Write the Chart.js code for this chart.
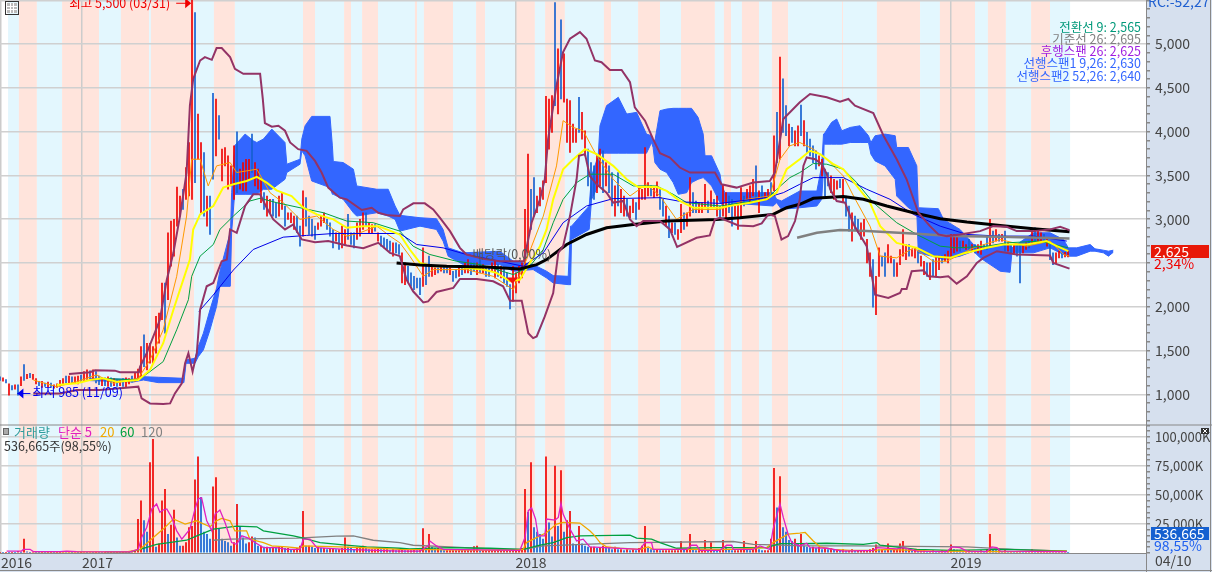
<!DOCTYPE html>
<html>
<head>
<meta charset="utf-8">
<style>
  html, body { margin: 0; padding: 0; background: #fff; overflow: hidden; }
  canvas { display: block; }
</style>
<script src="https://cdn.jsdelivr.net/npm/chart.js@4"></script>
</head>
<body>
<canvas id="stockChart" width="1212" height="572"></canvas>
<script>
// bar number = one step of the time axis
const candleHigh = [
  1200,1190,1170,1120,1100,1110,1110,1200,1340,1230, 1240,1230,1180,1150,1150,1130,1140,1130,1110,1120,
  1160,1180,1210,1210,1200,1200,1210,1220,1260,1280, 1270,1280,1260,1210,1190,1190,1200,1190,1180,1170,
  1160,1180,1190,1180,1210,1240,1290,1546,1680,1584, 1584,1546,1890,1928,2272,2272,2845,2979,2998,3368,
  3265,3342,3590,3876,5500,5359,4201,3876,3762,3265, 3265,4438,4373,4182,3800,3819,3724,3609,3838,3999,
  3571,3647,3685,3685,3972,3647,3571,3456,3303,3265, 3227,3227,3189,3265,3303,3151,3074,3074,3036,3036,
  2921,3323,3246,3036,2998,2921,2960,3036,3074,2998, 2960,2883,2845,2845,2921,2883,3055,2845,2845,2960,
  2998,3074,3074,2960,2940,2940,2845,2807,2788,2769, 2750,2730,2730,2711,2616,2501,2463,2387,2348,2329,
  2329,2673,2463,2578,2463,2444,2444,2463,2463,2463, 2444,2406,2425,2444,2444,2501,2539,2501,2501,2501,
  2539,2482,2463,2463,2501,2520,2482,2463,2425,2387, 2253,2463,2387,2463,2501,3112,3743,3342,3475,3265,
  3361,3437,4404,4373,4411,5473,4946,5278,4889,4373, 4354,4087,4029,4392,4220,4010,3800,3647,3609,3724,
  3800,3781,3647,3609,3533,3380,3533,3342,3265,3227, 3151,3227,3189,3361,3342,3819,3418,3380,3361,3426,
  3342,3227,3151,3036,2960,2960,2883,3170,3074,3074, 3475,3303,3208,3189,3189,3399,3208,3323,3227,3265,
  3151,3399,3303,3265,3227,3151,3189,3361,3265,3342, 3380,3456,3609,3323,3380,3303,3342,3418,3953,4220,
  4850,4602,4297,4087,4048,4010,4067,4304,4125,3991, 3915,3838,3781,3724,3685,3571,3533,3494,3456,3437,
  3456,3456,3265,3151,3074,3036,2998,2960,2998,2769, 2616,2539,2348,2673,2578,2616,2711,2578,2539,2501,
  2654,2883,2711,2711,2654,2673,2635,2578,2520,2501, 2501,2539,2578,2578,2578,2597,2635,2826,2826,2807,
  2750,2750,2711,2769,2711,2711,2711,2750,2711,2807, 2998,2864,2883,2826,2826,2864,2730,2711,2711,2700,
  2711,2711,2730,2750,2864,2902,2883,2845,2826,2788, 2711,2616,2616,2635,2616,2623,2635
];
const candleLow = [
  1160,1150,1130,990,1050,1060,990,1100,1160,1180, 1190,1170,1120,1100,1080,1090,1080,1080,1070,1080,
  1090,1110,1130,1120,1130,1130,1120,1140,1150,1170, 1170,1180,1130,1110,1100,1100,1090,1090,1100,1090,
  1100,1090,1080,1120,1140,1150,1160,1200,1317,1279, 1355,1355,1470,1584,1852,1699,2081,2463,2578,2921,
  3036,3112,3227,3265,3227,3418,3685,3074,3036,2921, 2826,3456,3724,3915,3437,3609,3342,3380,3227,3303,
  3342,3323,3323,3456,3533,3380,3342,3189,3112,3036, 3074,3036,3017,3036,3112,2921,2998,2960,2883,2845,
  2692,2807,2921,2826,2807,2769,2883,2921,2960,2883, 2807,2673,2750,2654,2673,2711,2769,2711,2673,2769,
  2807,2883,2921,2845,2845,2864,2750,2692,2673,2654, 2635,2578,2616,2597,2272,2253,2272,2234,2196,2215,
  2138,2234,2253,2348,2348,2368,2387,2406,2387,2387, 2368,2291,2329,2348,2368,2387,2387,2368,2406,2368,
  2387,2387,2348,2348,2406,2329,2348,2329,2272,2234, 1975,2062,2157,2272,2329,2463,2616,2883,3036,3074,
  3151,3227,3418,3800,3991,4297,4201,4373,4335,3876, 3762,3876,3876,3991,3915,3724,3380,3227,3227,3303,
  3380,3303,3380,3303,3151,3036,3151,3074,3036,3036, 3017,3074,2998,3112,3227,3227,3265,3265,3246,3265,
  3112,3036,2921,2788,2845,2826,2769,2845,2883,2921, 3036,3074,3074,3074,3074,3131,3074,3131,3131,3036,
  2998,3036,2998,3074,2921,3036,2883,3036,3151,3227, 3189,3265,3227,3074,3227,3227,3227,3265,3323,3647,
  3685,3991,3953,3838,3876,3838,3838,3953,3838,3762, 3724,3647,3571,3609,3494,3265,3380,3303,3227,3342,
  3361,3189,3036,2864,2750,2883,2845,2769,2807,2501, 2348,1997,1909,2348,2463,2348,2501,2501,2348,2348,
  2482,2578,2539,2578,2578,2559,2501,2463,2368,2348, 2310,2348,2348,2425,2501,2520,2501,2578,2616,2635,
  2635,2673,2654,2654,2635,2616,2616,2597,2654,2654, 2692,2730,2750,2750,2750,2635,2635,2616,2597,2578,
  2272,2616,2654,2673,2730,2750,2730,2750,2750,2692, 2539,2482,2501,2559,2559,2570,2570
];
const candleUp = [
  0,1,0,1,0,1,0,1,0,1, 0,1,1,0,1,0,1,0,1,1, 1,1,0,1,0,1,1,0,1,1, 0,1,0,0,1,0,1,0,1,0,
  1,0,1,1,0,1,1,1,0,1, 1,1,1,1,1,0,1,1,1,1, 1,0,1,1,1,0,1,1,0,1, 0,0,1,0,1,1,1,1,1,0,
  1,1,1,1,0,1,1,1,0,1, 1,0,0,1,1,0,1,1,1,0, 0,1,0,0,0,0,1,1,1,0, 0,0,1,0,1,1,0,0,0,1,
  1,1,0,1,1,0,1,0,0,0, 0,1,0,0,1,1,0,0,0,0, 0,1,0,0,1,1,0,1,0,0, 1,0,0,1,0,1,1,0,0,1,
  0,1,0,0,1,1,0,1,0,0, 0,1,1,1,1,1,1,0,0,1, 1,1,1,1,1,0,1,0,1,1, 1,1,1,0,1,1,0,0,0,1,
  1,0,1,0,0,1,0,1,1,0, 1,1,0,1,1,1,1,0,1,1, 0,0,1,0,1,0,1,1,0,1, 1,0,0,1,1,1,0,1,0,1,
  0,1,1,0,0,1,1,1,0,1, 1,1,0,1,0,1,1,0,1,0, 1,0,0,1,0,1,1,0,1,0, 0,0,0,1,1,0,0,1,1,1,
  0,1,0,0,1,0,0,1,1,1, 1,0,1,1,0,0,1,1,0,1, 1,1,1,0,1,1,0,1,1,0, 1,0,1,1,0,1,1,1,1,1,
  0,1,1,0,1,0,1,1,0,0, 1,0,1,0,1,0,1,0,1,0, 0,1,1,0,1,0,1,1,0,1, 0,0,1,1,0,1,1
];
// volume in thousands of K shares
const volume = [
  .5,.4,.5,.4,.6,.5,1.5,.6,12,1, .6,.8,.5,.4,.5,.4,.4,.5,.4,.5, .6,1,.8,1,.6,.8,.5,.6,.8,.6, .7,.5,.6,.5,.4,.5,.4,.5,.4,.5,
  .4,.5,.4,.8,1.5,2,29,45,28,18, 78,98,5,8,45,55,16,24,37,13, 6,6,9,22,23,63,83,48,18,16, 12,57,65,21,12,10,9,6,9,42,
  23,13,8,9,14,13,6,6,5,5, 4,5,4,5,5,4,4,3,3,4, 6,36,6,6,5,4,5,4,4,3, 4,4,3,3,4,13,5,4,3,5,
  5,6,4,3,3,3,4,3,3,3, 2,3,2,2,3,2,2,2,3,2, 3,21,3,16,5,4,4,3,2,2, 2,2,2,2,2,2,2,2,5.5,6,
  2,2,2,2,2,2,2,2,2,2, 3,3,3,3,4,55,35,78,22,18, 16,12,83,26,14,75,23,71,18,28, 36,8,7,23,8,6,5,5,5,4,
  4,6,5,4,3,5,3,3,2,3, 2,3,2,4,6,23,4,3,2,3, 2,2,2,2,2,2,2,10,3,3, 16,3,2,2,3,11,3,9,3,2,
  2,11,5,3,2,2,2,3,10,3, 2,3,10,3,2,2,2,12,73,39, 66,22,18,11,10,12,8,16,6,5, 4,5,4,5,3,4,3,4,3,3,
  2,3,2,2,3,2,2,2,2,2, 3,4,7,3,3,2,8,3,3,3, 8,10,3,3,2,3,2,2,2,1.5, 1.5,2,1.5,1.5,2,1.5,1.5,7,3,2.5,
  2,1.5,1.5,2,1.5,1.5,1.5,2,1.5,3, 16,3,2,2,1.5,2,1.5,1.5,1,1, 1.5,1,1,1,3,1,1,1,1,1, 1,1,1,1,1,1,.5
];

const bbUpperX = [23,30,31.7,38.3,40,46.3,46.7,48.9,53.3,55.6,57.8,60,62.2,63.3,64.4,66.7,68.3,70.6,72.2,73.9,76.7,78.3,81.1,86.7,87.6,88.3,90.6,92.8,95,96.7,99.4,102.2,105,107.2,109.4,113.3,115.6,120.6,123.9,126.1,129.4,133.3,134.4,137.8,141.6,144.4,146.6,150,153.3,155.5,161.1,166.6,174.6,177.2,180,181.6,182.7,185.5,187.7,190,193.3,195.5,198.3,200.5,203.3,207.2,210,211.6,215,217.7,220,223.3,226.6,230,238.3,240.5,245.5,251.1,256.6,258.3,261.1,266.6,270,275.6,280,282.8,285,291.1,294.5,298.9,302.2,306.1,310,312.8,315.6,320,326.7,331.1,335.6,338.9,344.5,350,353.4,356.5];
const bbUpper = [1233,1252,1275,1271,1252,1252,1317,1470,1852,2310,2616,3036,3533,4297,4602,4812,4851,4820,4954,4954,4851,4717,4660,4660,4373,4098,4056,4067,4010,3876,3800,3781,3666,3533,3361,3246,3227,3105,3131,3074,3044,3036,3112,3181,3181,3112,3017,2864,2673,2597,2547,2520,2520,2960,3227,3456,3915,4526,4908,5061,5137,5061,4812,4793,4705,4705,4564,4277,4125,3915,3754,3705,3590,3533,3533,3399,3361,3418,3437,3533,4144,4335,4430,4392,4343,4373,4297,4213,3953,3685,3456,3074,2921,2826,2807,2826,2864,2921,2914,2864,2864,2883,2914,2876];
const bbLowerX = [11.1,20,25.6,33.3,40,46.1,47.2,50,54.4,56.7,58.3,60.6,61.7,62.8,64.2,65.6,66.7,68.9,71.1,73.9,75.6,76.7,78.9,81.7,84.4,86.7,88.9,91.1,95,97.8,98.9,100.6,105,109.4,115.6,121.1,126.1,130,133.3,135.5,137.7,141.1,142.7,145.5,151.1,153.3,158.9,164.4,167.7,170,173.9,176.1,177.7,178.9,181.6,184.4,186.1,187.7,190,192.2,193,195,196.6,198.9,202.2,204.4,207.7,210,212.2,214.4,220,223.3,225.7,232.2,236.6,238.3,240,246.1,251.1,253.9,256.1,258.3,260.5,262.7,265,266.6,267.8,268.9,271.7,273.9,275.6,276.7,278.9,281.7,284.5,288.9,291.7,296.1,300,300.6,302.2,303.9,307.8,309.5,313.4,316.1,318.9,322.3,325.6,327.8,332.3,338.9,350,351.1,356.5];
const bbLower = [1011,1011,1050,1050,1069,1088,954,897,889,897,1011,1126,1355,1470,1260,1470,1966,2234,2272,2520,2539,2883,2845,3151,3284,3284,3131,2998,2883,2940,2864,2769,2738,2750,2700,2669,2730,2616,2578,2310,2177,2050,2062,2169,2215,2318,2318,2291,2234,2070,2070,1699,1642,1661,1890,2157,2616,2692,3036,3456,3724,3743,3494,3399,3303,3189,3208,2998,2921,2979,2979,2883,2685,2788,2815,2998,3017,2929,2921,2952,3055,3036,2769,2807,2979,3227,3609,3705,3685,3628,3514,3342,3208,3189,2941,2692,2138,2100,2157,2203,2203,2406,2417,2348,2337,2348,2264,2348,2501,2558,2635,2597,2585,2501,2436];

const ma5X = [11.1,18.9,25.6,32.2,37.8,46.1,50,54.4,58.9,62.2,63.9,66.7,69.4,72.2,76.7,78.9,85.6,90,94.4,100,105.6,111.1,115.6,120,125.6,130,133.3,136.6,141.1,144.4,155.5,164.4,171.1,175.5,181.1,185.5,187.7,191.1,194.4,198.9,204.4,210,215.5,220,225.5,231.1,240,248.9,256.6,260,263.3,266.6,271.1,275.6,281.1,284.5,290,293.4,298.9,304.5,311.1,315.6,324.5,333.4,342.2,350,354.5,356.5];
const ma5 = [1164,1088,1145,1222,1126,1183,1393,1737,2348,3036,3685,3685,3380,3609,3647,3533,3571,3303,3189,2998,3036,2883,2807,2845,2921,2807,2730,2578,2348,2425,2425,2348,2196,2539,3036,3609,4125,4048,4010,3724,3456,3265,3399,3265,2998,3112,3112,3227,3265,3685,3838,3876,3800,3685,3494,3265,2921,2578,2559,2673,2520,2520,2673,2769,2692,2750,2597,2578];
const ma20X = [18.9,25.6,30,34.4,38.9,46.1,50,54.4,57.8,61.1,63.3,64.4,66.7,71.1,74.4,77.8,82.2,85.6,88.9,92.2,97.2,101.1,105.6,111.1,115.6,121.1,126.1,133.3,136.6,140,144.4,151.1,155.5,161.1,165.5,170,173.3,176.6,180,182.2,184.4,187.7,191.1,195,198.9,204.4,208.9,212.7,218.9,222.2,226.6,231.1,240,244.4,250,255.5,258.9,262.2,266.6,270,273.4,277.8,281.1,285.6,290,293.4,298.9,305.6,311.1,316.7,321.1,328.9,334.5,342.2,348.9,352.3,356.1];
const ma20 = [1107,1126,1164,1183,1145,1164,1279,1584,1966,2310,2539,2883,3055,3151,3361,3399,3437,3483,3418,3330,3265,3131,3055,2998,2902,2921,2921,2826,2654,2501,2463,2463,2444,2425,2387,2291,2310,2501,2692,2883,3227,3571,3685,3800,3743,3609,3456,3368,3368,3323,3208,3131,3131,3158,3189,3227,3303,3571,3685,3781,3743,3628,3571,3380,3189,2921,2730,2673,2578,2559,2608,2673,2711,2711,2750,2692,2635];
const ma60X = [33.3,46.1,50,54.4,58.9,62.8,63.9,66.7,71.1,73.3,77.8,83.3,86.7,92.2,100,107.8,115.6,124.4,133.3,137.7,143.3,152.2,160,171.1,176.6,181.1,184.4,187.7,192.2,196.6,204.4,211.1,218.9,224.4,228.9,240,255.5,258.9,263.3,266.6,271.1,275.6,281.1,285.6,291.1,298.9,305.6,313.4,318.9,328.9,335.6,346.7,356.1];
const ma60 = [1183,1164,1260,1374,1737,2081,2348,2578,2711,2883,3036,3208,3239,3189,3131,3074,2979,2960,2864,2692,2597,2520,2482,2368,2463,2654,2960,3227,3418,3514,3514,3380,3380,3284,3189,3151,3227,3342,3475,3533,3636,3628,3571,3418,3189,2960,2826,2692,2673,2692,2730,2750,2673];
const ma120X = [66.3,71.1,77.8,84.4,94.4,102.2,111.1,133.3,138.9,147.7,155.5,166.6,174.4,181.1,187.7,195.5,204.4,220,227.7,240,255.5,261.1,266.6,271.1,281.1,288.9,296.7,304.5,313.4,322.3,333.4,344.5,355.6];
const ma120 = [1947,2135,2420,2654,2795,2815,2837,2837,2711,2673,2597,2520,2463,2616,2960,3151,3235,3246,3197,3181,3246,3303,3399,3475,3475,3342,3227,3055,2921,2826,2807,2807,2750];
const ma240X = [132.2,140,148.9,162.2,173.3,178.9,182.2,188.9,195.5,202.2,211.1,222.2,238.9,246.6,257.7,262.2,266.6,271.1,281.1,287.8,295.6,304.5,313.4,322.3,333.4,344.5,356.5];
const ma240 = [2501,2478,2463,2455,2432,2482,2539,2711,2826,2902,2940,2979,2998,3017,3055,3131,3170,3239,3258,3227,3151,3074,3005,2967,2929,2891,2856];
const ma480X = [265.7,272.3,280,288.9,305.6,316.7,333.4,356.5];
const ma480 = [2788,2845,2876,2864,2833,2807,2799,2780];

const cloudX = [30,44.4,47.8,52.8,61.3,62,65,66.1,67.8,70,72.2,73.3,76.7,76.9,77.2,78.2,81.7,84.4,85.6,87.8,90.6,95,95.6,100,100.6,101.7,103.9,110,110.8,111.1,114.4,117.8,118.9,125.6,129.4,131.7,133.3,140,145.5,147.7,149.4,154.4,166.6,171.1,177.7,182.2,184.4,189.4,190.2,190.5,196.4,197.2,199.4,200,202.2,206.1,208.9,212.2,215.5,217.2,217.7,218.3,220,222.2,224.4,226.1,228.9,230.5,232.7,234.4,235,237.2,240,240.5,241.6,257.7,258.9,260.5,266.6,272.3,273.9,274.5,274.7,277.2,278.9,280.6,283.4,286.7,289.5,290.3,291.7,295,298.4,298.9,302.8,305.6,306.1,312.8,314.5,320,324.5,326.7,333.4,336.7,337.3,344.5,350,354.5,356.1,358.9,363.4,365,367.8,369.5,371.1];
const cloudTop = [1183,1172,1202,1195,1183,1393,1412,1546,1699,1966,2215,2406,2845,2921,3303,3838,3972,3896,3876,3915,4029,3876,3628,3685,3915,4067,4174,4174,3838,3659,3647,3571,3380,3342,3342,3151,3044,3017,3005,2883,2673,2616,2635,2520,2482,2406,2356,2348,2921,2921,3151,3494,3724,4067,4297,4392,4201,4220,3972,3953,3896,3896,4239,4258,4266,4266,4266,4266,4163,3972,3724,3724,3514,3399,3303,3303,3227,3208,3322,3322,3609,3972,3972,4106,4144,4010,4048,4067,3953,3876,3953,3972,3953,3819,3819,3609,3131,3120,2998,2883,2711,2673,2711,2711,2673,2845,2845,2769,2673,2673,2711,2662,2646,2635,2646];
const cloudBottom = [1157,1141,1164,1134,1134,1355,1355,1431,1508,1737,2005,2234,2234,2234,2845,3284,3284,3284,3284,3342,3342,3456,3533,3628,3781,3724,3437,3361,3284,3284,3227,3074,3036,3074,3036,2998,2864,2921,2883,2750,2578,2482,2482,2406,2425,2329,2272,2253,2253,2769,2883,3227,3380,3754,3754,3754,3754,3754,3754,3876,3819,3647,3571,3533,3418,3284,3303,3418,3456,3475,3456,3380,3189,3170,3189,3151,3189,3112,3131,3151,3227,3571,3857,3857,3857,3857,3876,3876,3876,3743,3666,3609,3456,3265,3131,3074,2616,2559,2539,2578,2635,2559,2406,2394,2616,2616,2673,2597,2578,2578,2635,2635,2616,2578,2623];

const volMa5X = [2.2,7.2,7.8,10,11.1,20,22.2,25.6,43.3,46.1,47.2,48.9,50.6,52.2,53.3,54.4,55.6,57.2,58.9,60.6,63.3,65,66.1,67.2,68.9,70.6,71.7,73.3,75,77.2,78.9,80.6,82.8,85,87.8,92.2,95.6,100,101.1,103.3,105.6,115,133.3,140,142.7,143.3,145.5,147.7,173.3,175,176.1,177.2,178.5,179.4,181.6,182.2,185,186.1,187,187.7,190,192.2,194.4,196.6,213.3,215,217.2,217.7,228.9,230.5,232.2,233.3,240,242.2,243.9,244.4,251.1,253.3,256.6,257.7,260,261.1,262.7,263.9,266.6,268.9,270,275.6,281.1,291.1,292.5,298.9,301.1,305.6,315.6,317.3,320,322.3,328.9,330.6,332.3,333.4,355.6];
const volMa5 = [1.7,1.7,3.2,3.2,1.2,1.2,1.7,1.2,.9,3.2,13.3,22,38,42.3,35.1,37.1,38,30.7,19.1,11.9,20.6,38,46.7,47.6,27.8,19.1,33.6,37.1,26.4,9,7.5,14.8,12.8,9,4.6,4.6,3.2,3.2,11.9,11.9,4.6,3.2,1.7,1.7,6.1,10.4,6.1,3.2,2.3,13.3,36.5,38.9,29.3,14.8,14.8,29.3,28.4,30.7,42.9,33.6,20.6,10.4,11.9,5.2,3.2,9,9,3.2,3.2,6.7,6.7,2.3,2.3,6.7,6.7,3.2,3.2,6.1,3.2,20.6,42.3,30.7,16.2,9,6.1,8.4,4.6,4.1,1.7,2.3,4.6,3.5,4.6,1.7,1.2,5.2,4.6,1.7,1.2,5.2,4.6,1.7,1.2];
const volMa20X = [11.1,42.2,46.7,51.1,54.4,57.8,61.7,65.6,66.7,70,72.2,73.9,76.7,78.3,82.2,83.3,87.8,90.6,95.6,100,101.1,113.3,125.6,133.3,171.1,174.4,175.5,182.2,185.5,187.7,193.3,196.6,198.3,200,202.2,206.6,213.3,216.1,217.7,244.4,255.5,257.7,262.7,266.6,268.4,271.1,273.4,277.8,283.4,291.1,295.6,311.1,333.4,355.6];
const volMa20 = [1.2,.9,3.2,13.3,20.6,29.3,24.9,27.8,26.4,22.6,27.8,29.9,27.8,19.1,19.1,11.9,9,6.1,5.2,4.1,6.1,5.2,4.1,3.2,2.3,3.2,9,17.7,24.9,26.4,25.8,19.1,14.8,9,5.2,4.1,3.2,5.2,3.2,3.2,4.6,9,16.2,17.1,17.7,10.4,5.2,3.2,2.3,2.3,3.2,1.7,1.2,1.7];
const volMa60X = [35,43.3,46.7,52.2,62.2,65.6,71.1,78.9,85.6,87.8,97.8,101.1,106.7,114.4,122.2,133.3,136.6,150,163.3,174.4,180,184.4,188.9,193.3,210,212.2,217.2,220,225.5,237.7,255.5,260,266.6,275.6,287.8,292.3,293.4,305.6,316.7,335.6,355.6];
const volMa60 = [1.2,.9,3.2,7.5,11,14.8,20.6,23.2,22.6,19.1,14.8,12.8,9,7,5.2,4.1,3.5,4.6,4.1,3.2,6.7,9,13.3,14.8,15.4,12.8,11.9,9,4.1,4.6,4.6,8.1,8.1,8.4,7.5,9,6.7,3.2,2.3,3.2,1.7];
const volMa120X = [71.1,76.7,98.9,112.2,117.8,124.4,133.3,137.7,150,166.6,174.4,181.1,210,244.4,251.1,257.7,266.6,285.6,322.3,337.8,355.6];
const volMa120 = [11,11.9,12.8,14.5,14.8,11,9,6.7,5.2,3.2,3.2,6.1,9,9.9,7.5,7,6.1,6.1,5.2,3.2,1.7];

// background stripes, colour flips at each edge, first one is blue
const bandEdges = [2.7,6.3,12.3,20.7,33,40.3,49.7,50.3,64.7,71.3,78.3,101,105,114.7,117,120.7,126,138.3,139,141.3,151,158.7,161.7,172,178.3,181.7,188.3,201.3,203.7,212.7,220,227,238.3,241.3,243.7,247.3,253,257.3,262.7,280.7,281,292.3,306.7,313.3,325,329.3,335.3,343.7,350,356.7];

const yearTicks = [0.3, 27.3, 171.8, 316.8];
const yearLabels = ['2016', '2017', '2018', '2019'];
const lastDate = '04/10';
const hiddenPriceTicks = [2500, 5500];
const ichimokuLegend = [
  ['전환선 9: 2,565', '#00997a'],
  ['기준선 26: 2,695', '#808080'],
  ['후행스팬 26: 2,625', '#a020e0'],
  ['선행스팬1 9,26: 2,630', '#3366ff'],
  ['선행스팬2 52,26: 2,640', '#3366ff']
];

const FONT = "'Liberation Sans Narrow','Noto Sans CJK KR',sans-serif";
const PANEL = '#d6e0ee';
const RED = '#f00000';
const BLUE = '#1560d0';
const CLOUD = '#3366ff';

const sessions = candleHigh.map((_, i) => i);
const pairs = (xs, ys) => xs.map((x, i) => ({ x: x, y: ys[i] }));

function line(xs, ys, color, width, axis, order) {
  return {
    type: 'line', data: pairs(xs, ys), borderColor: color, borderWidth: width,
    pointRadius: 0, tension: 0, fill: false, yAxisID: axis, order: order
  };
}

function text(ctx, str, x, y, color, size, align) {
  ctx.font = (size || 13) + 'px ' + FONT;
  ctx.fillStyle = color;
  ctx.textAlign = align || 'left';
  ctx.textBaseline = 'middle';
  ctx.fillText(str, x, y);
}

const backdrop = {
  id: 'backdrop',
  beforeDraw(chart) {
    const ctx = chart.ctx, area = chart.chartArea, x = chart.scales.x;
    ctx.save();
    ctx.fillStyle = '#fff';
    ctx.fillRect(0, 0, chart.width, chart.height);
    ctx.fillStyle = PANEL;
    ctx.fillRect(area.right, 0, chart.width - area.right, chart.height);
    ctx.fillRect(0, area.bottom, chart.width, chart.height - area.bottom);
    for (let i = 0; i < bandEdges.length - 1; i++) {
      ctx.fillStyle = i % 2 ? '#ffe4dc' : '#e3f7fe';
      const a = x.getPixelForValue(bandEdges[i]), b = x.getPixelForValue(bandEdges[i + 1]);
      ctx.fillRect(a, area.top, b - a, area.bottom - area.top);
    }
    ctx.restore();
  }
};

const labels = {
  id: 'labels',
  afterDraw(chart) {
    const ctx = chart.ctx, area = chart.chartArea, x = chart.scales.x, y = chart.scales.y;
    ctx.save();

    // pane separator and frame
    ctx.strokeStyle = '#888';
    ctx.lineWidth = 1;
    ctx.beginPath();
    ctx.moveTo(0, y.bottom + 0.5); ctx.lineTo(chart.width, y.bottom + 0.5);
    ctx.moveTo(area.right + 0.5, area.bottom); ctx.lineTo(area.right + 0.5, chart.height);
    ctx.moveTo(0, chart.height - 1.5); ctx.lineTo(chart.width, chart.height - 1.5);
    ctx.moveTo(chart.width - 1.5, 0); ctx.lineTo(chart.width - 1.5, chart.height);
    ctx.stroke();

    // table icon
    ctx.strokeStyle = '#333';
    ctx.strokeRect(5.5, 1.5, 13, 13);
    ctx.fillStyle = '#bbb';
    ctx.fillRect(7, 3, 10, 10);
    ctx.strokeStyle = '#fff';
    ctx.beginPath();
    ctx.moveTo(10.5, 3); ctx.lineTo(10.5, 13);
    ctx.moveTo(13.5, 3); ctx.lineTo(13.5, 13);
    ctx.moveTo(7, 6.5); ctx.lineTo(17, 6.5);
    ctx.moveTo(7, 9.5); ctx.lineTo(17, 9.5);
    ctx.stroke();

    // high marker
    const hx = x.getPixelForValue(63.4), hy = y.getPixelForValue(5500) + 3;
    text(ctx, '최고 5,500 (03/31)', hx - 20, hy, RED, 12.5, 'right');
    ctx.strokeStyle = RED;
    ctx.fillStyle = RED;
    ctx.beginPath(); ctx.moveTo(hx - 14, hy); ctx.lineTo(hx, hy); ctx.stroke();
    ctx.beginPath(); ctx.moveTo(hx - 5, hy - 5); ctx.lineTo(hx + 1, hy); ctx.lineTo(hx - 5, hy + 5); ctx.fill();

    // low marker
    const lx = x.getPixelForValue(5.8), ly = y.getPixelForValue(1010);
    text(ctx, '최저 985 (11/09)', lx + 15, ly - 1, '#0000f0', 12.5);
    ctx.strokeStyle = '#0000f0';
    ctx.fillStyle = '#0000f0';
    ctx.beginPath(); ctx.moveTo(lx, ly); ctx.lineTo(lx + 13, ly); ctx.stroke();
    ctx.beginPath(); ctx.moveTo(lx, ly); ctx.lineTo(lx + 6, ly - 5); ctx.lineTo(lx + 6, ly + 5); ctx.fill();

    // ex-dividend marker
    const dx = x.getPixelForValue(170.8), dy = y.getPixelForValue(2300);
    ctx.fillStyle = '#f01010';
    ctx.beginPath(); ctx.moveTo(dx - 6, dy - 3); ctx.lineTo(dx + 6, dy - 3); ctx.lineTo(dx, dy + 3); ctx.fill();
    text(ctx, '배당락(0,00%)', dx - 40, dy - 26, '#555', 12.5);

    // ichimoku legend
    ichimokuLegend.forEach((row, i) => text(ctx, row[0], 1141, 27 + i * 12.2, row[1], 12.5, 'right'));

    // volume legend
    const ly2 = 432;
    ctx.fillStyle = '#aaa';
    ctx.strokeStyle = '#666';
    ctx.fillRect(3.5, ly2 - 3.5, 5, 6);
    ctx.strokeRect(3.5, ly2 - 3.5, 5, 6);
    text(ctx, '거래량', 14, ly2, '#2e9c9c', 13);
    text(ctx, '단순 5', 58, ly2, '#e020c0', 13);
    text(ctx, '20', 100, ly2, '#f0a800', 13);
    text(ctx, '60', 120, ly2, '#00a040', 13);
    text(ctx, '120', 141, ly2, '#808080', 13);
    text(ctx, '536,665주(98,55%)', 4, 446, '#333', 12.5);

    // current value tags
    ctx.fillStyle = '#e81808';
    ctx.fillRect(1151, 245, 58, 13);
    text(ctx, '2,625', 1154, 252, '#fff', 14);
    text(ctx, '2,34%', 1154, 264, RED, 14);
    ctx.fillStyle = BLUE;
    ctx.fillRect(1151, 527, 58, 13);
    text(ctx, '536,665', 1154, 534, '#fff', 14);
    text(ctx, '98,55%', 1154, 546, '#2060f0', 14);
    text(ctx, 'RC:-52,27', 1148, 2, '#2060d0', 14);
    text(ctx, lastDate, 1155, 561, '#444', 14);

    // small close icon
    ctx.fillStyle = '#333';
    ctx.fillRect(1201, 428, 8, 6);
    ctx.strokeStyle = '#fff';
    ctx.beginPath();
    ctx.moveTo(1203, 429); ctx.lineTo(1207, 433);
    ctx.moveTo(1207, 429); ctx.lineTo(1203, 433);
    ctx.stroke();
    ctx.restore();
  }
};

function fitRight(s) {
  s.width = 66;
  s.paddingTop = 0;
  s.paddingBottom = 0;
}

new Chart(document.getElementById('stockChart'), {
  type: 'line',
  data: {
    datasets: [
      // cloud
      {
        type: 'line', data: pairs(cloudX, cloudTop), borderColor: CLOUD, backgroundColor: CLOUD,
        borderWidth: 1, pointRadius: 0, tension: 0, fill: '+1', yAxisID: 'y', order: 30
      },
      {
        type: 'line', data: pairs(cloudX, cloudBottom), borderColor: CLOUD,
        borderWidth: 1, pointRadius: 0, tension: 0, fill: false, yAxisID: 'y', order: 30
      },
      // candles
      {
        type: 'bar', data: sessions.map(i => ({ x: i, y: [candleLow[i], candleHigh[i]] })),
        backgroundColor: sessions.map(i => candleUp[i] ? RED : BLUE),
        barThickness: 1, grouped: false, yAxisID: 'y', order: 20
      },
      // volume
      {
        type: 'bar', data: sessions.map(i => ({ x: i, y: volume[i] })),
        backgroundColor: sessions.map(i => (i === 0 || volume[i] >= volume[i - 1]) ? RED : BLUE),
        barThickness: 1, grouped: false, yAxisID: 'yVol', order: 20
      },
      line(ma120X, ma120, '#0000e8', 1, 'y', 10),
      line(ma60X, ma60, '#00a040', 1, 'y', 10),
      line(ma5X, ma5, '#ff9900', 1, 'y', 10),
      line(ma20X, ma20, '#ffff00', 2, 'y', 9),
      line(ma480X, ma480, '#808080', 2.5, 'y', 8),
      line(ma240X, ma240, '#000000', 3, 'y', 7),
      line(bbUpperX, bbUpper, '#933366', 2, 'y', 6),
      line(bbLowerX, bbLower, '#933366', 2, 'y', 6),
      line(volMa120X, volMa120, '#808080', 1.3, 'yVol', 9),
      line(volMa60X, volMa60, '#00a040', 1.3, 'yVol', 8),
      line(volMa20X, volMa20, '#f0a800', 1.3, 'yVol', 7),
      line(volMa5X, volMa5, '#e020c0', 1.3, 'yVol', 6)
    ]
  },
  options: {
    responsive: false,
    animation: false,
    events: [],
    layout: { padding: 0 },
    plugins: { legend: { display: false }, tooltip: { enabled: false } },
    scales: {
      x: {
        type: 'linear', min: 0, max: 382, offset: false,
        afterFit: s => { s.height = 19; s.paddingLeft = 0; s.paddingRight = 0; },
        afterBuildTicks: s => { s.ticks = yearTicks.map(v => ({ value: v })); },
        grid: { offset: false, color: '#cccccc', lineWidth: 1.5, drawTicks: false },
        border: { color: '#888' },
        ticks: {
          autoSkip: false, maxRotation: 0, align: 'start', padding: 1, color: '#444',
          font: { family: FONT, size: 14 },
          callback: v => yearLabels[yearTicks.indexOf(v)]
        }
      },
      y: {
        position: 'right', stack: 'panes', stackWeight: 424.5, min: 656, max: 5503,
        afterFit: fitRight,
        grid: {
          color: c => (c.tick && c.tick.value % 500 === 0) ? '#d0d0d0' : 'rgba(0,0,0,0)',
          lineWidth: 1.5, tickColor: '#888', tickLength: 4
        },
        border: { color: '#888' },
        ticks: {
          stepSize: 100, autoSkip: false, includeBounds: false, padding: 5, color: '#444',
          font: { family: FONT, size: 14 },
          callback: v => (v % 500 === 0 && !hiddenPriceTicks.includes(v)) ? v.toLocaleString('en-US') : ''
        }
      },
      yVol: {
        position: 'right', stack: 'panes', stackWeight: 128.5, min: 0, max: 110.8,
        afterFit: fitRight,
        grid: {
          color: c => (c.tick && c.tick.value > 0 && c.tick.value % 25 === 0) ? '#d0d0d0' : 'rgba(0,0,0,0)',
          lineWidth: 1.5, tickColor: '#888', tickLength: 4
        },
        border: { color: '#888' },
        ticks: {
          stepSize: 5, autoSkip: false, includeBounds: false, padding: 5, color: '#444',
          font: { family: FONT, size: 13 },
          callback: v => (v > 0 && v % 25 === 0) ? (v * 1000).toLocaleString('en-US') + 'K' : ''
        }
      }
    }
  },
  plugins: [backdrop, labels]
});
</script>
</body>
</html>
